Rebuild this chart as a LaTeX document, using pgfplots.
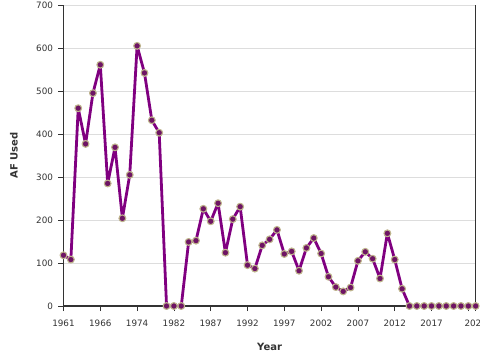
\documentclass[border=0pt]{standalone}
\usepackage{fontspec}
\setmainfont{DejaVu Sans}
\usepackage{pgfplots}
\pgfplotsset{compat=1.18}
\definecolor{lineP}{RGB}{128,0,128}
\definecolor{markF}{RGB}{110,20,100}
\definecolor{markD}{RGB}{190,180,140}
\definecolor{axc}{RGB}{51,51,51}
\definecolor{gridc}{RGB}{221,221,221}
\begin{document}
\begin{tikzpicture}
\begin{axis}[
  at={(0,0)}, anchor=south west,
  scale only axis, width=412.2pt, height=301pt,
  xmin=0, xmax=56, ymin=0, ymax=700,
  clip=false,
  axis x line=bottom, axis y line=left,
  axis line style={axc, line width=1.6pt, -},
  xtick={0,5,10,15,20,25,30,35,40,45,50,55,56},
  xticklabels={1961,1966,1974,1982,1987,1992,1997,2002,2007,2012,2017,,2023},
  ytick={0,100,...,700},
  tick align=outside,
  major tick length=5pt,
  tick style={axc, line width=0.8pt},
  ymajorgrids,
  grid style={gridc, line width=0.8pt},
  /pgf/number format/assume math mode=true,
  tick label style={font=\fontsize{8.8}{10}\selectfont, text=axc},
  x tick label style={yshift=-5pt},
  y tick label style={xshift=-2pt},
  xlabel={Year}, ylabel={AF Used},
  label style={font=\fontsize{10}{12}\selectfont\bfseries, text=axc},
  x label style={at={(axis description cs:0.5,-0.1352)}, anchor=center},
  y label style={at={(axis description cs:-0.1201,0.5)}, anchor=center},
]
\addplot[lineP, line width=2.8pt, line join=round, mark=*, mark size=3.4pt,
  mark options={fill=markF, draw=markD, line width=1.1pt}] coordinates {
(0,118)(1,108)(2,460)(3,377)(4,495)(5,561)(6,285)(7,369)(8,204)(9,305)
(10,605)(11,542)(12,432)(13,403)(14,0)(15,0)(16,0)(17,149)(18,152)(19,226)
(20,197)(21,239)(22,124)(23,202)(24,231)(25,95)(26,87)(27,141)(28,155)(29,177)
(30,121)(31,127)(32,82)(33,135)(34,158)(35,122)(36,68)(37,44)(38,34)(39,43)
(40,105)(41,126)(42,110)(43,64)(44,169)(45,108)(46,40)(47,0)(48,0)(49,0)
(50,0)(51,0)(52,0)(53,0)(54,0)(55,0)(56,0)
};
\draw[axc, line width=1.2pt] (rel axis cs:1,0) -- (rel axis cs:1,1);
\end{axis}
\pgfresetboundingbox
\useasboundingbox (-63.5pt,-54pt) rectangle (416.5pt,306pt);
\end{tikzpicture}
\end{document}
